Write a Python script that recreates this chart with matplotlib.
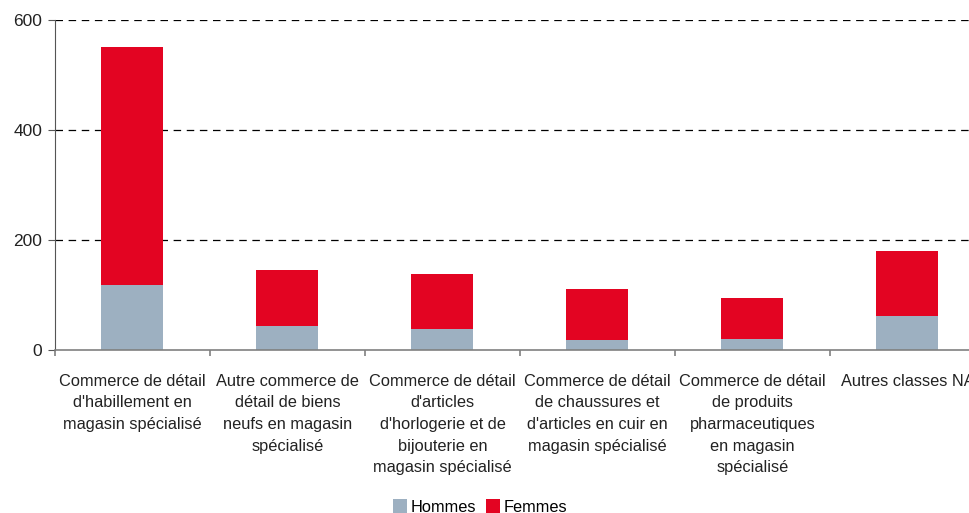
import numpy as np
from matplotlib import pyplot as plt

plt.rcParams['font.family'] = ['Liberation Sans', 'DejaVu Sans']

categories = [
    "Commerce de détail\nd'habillement en\nmagasin spécialisé",
    "Autre commerce de\ndétail de biens\nneufs en magasin\nspécialisé",
    "Commerce de détail\nd'articles\nd'horlogerie et de\nbijouterie en\nmagasin spécialisé",
    "Commerce de détail\nde chaussures et\nd'articles en cuir en\nmagasin spécialisé",
    "Commerce de détail\nde produits\npharmaceutiques\nen magasin\nspécialisé",
    "Autres classes NA",
]
hommes = [118, 44, 38, 19, 20, 62]
femmes = [433, 101, 100, 92, 75, 118]

fig = plt.figure(figsize=(9.7, 5.13), dpi=100)
ax = fig.add_axes([55 / 970, 163 / 513, 930 / 970, 330 / 513])

x = np.arange(len(categories))
ax.bar(x, hommes, width=0.4, color="#9DB0C1", label="Hommes", zorder=2)
ax.bar(x, femmes, width=0.4, bottom=hommes, color="#E30422", label="Femmes", zorder=2)

ax.set_xlim(-0.5, len(categories) - 0.5)
ax.set_ylim(0, 600)
ax.set_yticks([0, 200, 400, 600])
for v in [200, 400, 600]:
    ax.axhline(v, color="black", lw=0.9, ls=(0, (6, 4.5)), zorder=1)

ax.set_xticks(np.arange(-0.5, len(categories), 1.0))
ax.set_xticklabels([])
ax.set_xticks(x, minor=True)
ax.set_xticklabels(categories, minor=True, fontsize=11.8, linespacing=1.56,
                   va="top", ha="center", color="#222222")
ax.tick_params(axis="x", which="minor", length=0, pad=17)
ax.tick_params(axis="x", which="major", length=4, color="#808080", width=1.2)
ax.tick_params(axis="y", length=5, pad=4, color="#555555", labelsize=12.5, labelcolor="#222222")

for s in ["top", "right"]:
    ax.spines[s].set_visible(False)
ax.spines["left"].set_color("#555555")
ax.spines["bottom"].set_color("#808080")
ax.spines["bottom"].set_linewidth(1.2)

fig.legend(loc="lower center", bbox_to_anchor=(0.495, -0.032), ncol=2, frameon=False,
           fontsize=11.8, handlelength=0.85, handleheight=0.85, handletextpad=0.25,
           columnspacing=0.6)

plt.savefig("out.png")
